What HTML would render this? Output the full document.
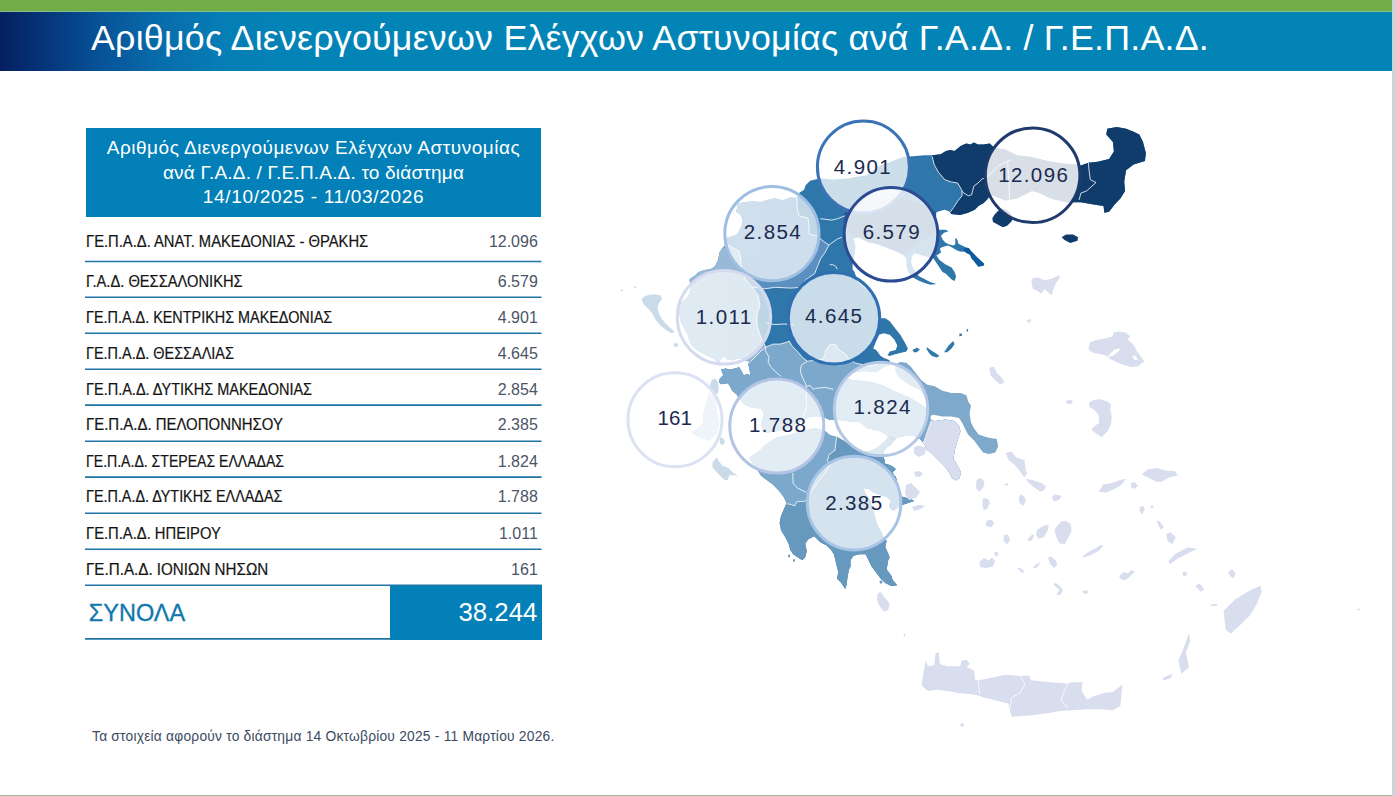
<!DOCTYPE html>
<html lang="el">
<head>
<meta charset="utf-8">
<title>Αριθμός Διενεργούμενων Ελέγχων Αστυνομίας</title>
<style>
*{margin:0;padding:0;box-sizing:border-box}
html,body{width:1396px;height:796px;overflow:hidden;background:#fff}
body{position:relative;font-family:"Liberation Sans","DejaVu Sans",sans-serif}
.abs{position:absolute}
#green{left:0;top:0;width:1392px;height:11px;background:#72ad47}
#gline{left:0;top:11px;width:1392px;height:1px;background:#80c088}
#bar{left:0;top:12px;width:1392px;height:58.5px;background:linear-gradient(90deg,#05205f 0px,#06357a 45px,#075298 100px,#086cab 160px,#067eb6 225px,#0384b7 300px,#0384b7 100%)}
#title{left:91px;top:20.5px;font-size:35.8px;line-height:35.8px;letter-spacing:0.21px;color:#fff;white-space:nowrap}
#rstrip{left:1392px;top:0;width:4px;height:796px;background:#d2d1d8}
#bstrip{left:0;top:794.5px;width:1392px;height:1.5px;background:#a3b896}
#thead{left:86px;top:128px;width:455px;height:89px;background:#0280b7;color:#fff;text-align:center;font-size:19px;line-height:24.8px;padding-top:7.8px;white-space:nowrap}
.lab{position:absolute;left:86px;font-size:15.8px;line-height:15px;color:#141414;-webkit-text-stroke:0.2px #141414;white-space:nowrap;transform-origin:0 0}
.num{position:absolute;right:858.2px;font-size:16px;line-height:15px;color:#4b5567;white-space:nowrap}
#tot{left:390px;top:585px;width:151.5px;height:54.5px;background:#0280b7}
#totv{right:858.6px;top:599.8px;font-size:25.8px;line-height:24.5px;color:#fff}
#totl{left:88.8px;top:602.1px;font-size:23.5px;line-height:23.2px;color:#1178ad;-webkit-text-stroke:0.3px #1178ad}
#foot{left:92px;top:730.3px;font-size:13.8px;line-height:13.8px;letter-spacing:0.215px;color:#3c4a62;white-space:nowrap}
svg{position:absolute;left:0;top:0}
.c{font-family:"Liberation Sans",sans-serif;font-size:20.5px;letter-spacing:1.4px;fill:#1b2a4e;text-anchor:middle}
</style>
</head>
<body>
<div id="green" class="abs"></div>
<div id="gline" class="abs"></div>
<div id="bar" class="abs"></div>
<div id="title" class="abs">Αριθμός Διενεργούμενων Ελέγχων Αστυνομίας ανά Γ.Α.Δ. / Γ.Ε.Π.Α.Δ.</div>
<div id="rstrip" class="abs"></div>
<div id="bstrip" class="abs"></div>

<div id="thead" class="abs"><span style="letter-spacing:0.52px">Αριθμός Διενεργούμενων Ελέγχων Αστυνομίας</span><br><span style="letter-spacing:0.19px">ανά Γ.Α.Δ. / Γ.Ε.Π.Α.Δ. το διάστημα</span><br><span style="letter-spacing:0.68px">14/10/2025 - 11/03/2026</span></div>

<div class="lab" style="top:233.8px;transform:scaleX(0.9342)">ΓΕ.Π.Α.Δ. ΑΝΑΤ. ΜΑΚΕΔΟΝΙΑΣ - ΘΡΑΚΗΣ</div><div class="num" style="top:233.8px">12.096</div>
<div class="lab" style="top:273.8px;transform:scaleX(0.9295)">Γ.Α.Δ. ΘΕΣΣΑΛΟΝΙΚΗΣ</div><div class="num" style="top:273.8px">6.579</div>
<div class="lab" style="top:309.6px;transform:scaleX(0.9114)">ΓΕ.Π.Α.Δ. ΚΕΝΤΡΙΚΗΣ ΜΑΚΕΔΟΝΙΑΣ</div><div class="num" style="top:309.6px">4.901</div>
<div class="lab" style="top:345.5px;transform:scaleX(0.9136)">ΓΕ.Π.Α.Δ. ΘΕΣΣΑΛΙΑΣ</div><div class="num" style="top:345.5px">4.645</div>
<div class="lab" style="top:381.5px;transform:scaleX(0.9182)">ΓΕ.Π.Α.Δ. ΔΥΤΙΚΗΣ ΜΑΚΕΔΟΝΙΑΣ</div><div class="num" style="top:381.5px">2.854</div>
<div class="lab" style="top:417.4px;transform:scaleX(0.9458)">ΓΕ.Π.Α.Δ. ΠΕΛΟΠΟΝΝΗΣΟΥ</div><div class="num" style="top:417.4px">2.385</div>
<div class="lab" style="top:453.5px;transform:scaleX(0.8903)">ΓΕ.Π.Α.Δ. ΣΤΕΡΕΑΣ ΕΛΛΑΔΑΣ</div><div class="num" style="top:453.5px">1.824</div>
<div class="lab" style="top:489.4px;transform:scaleX(0.9097)">ΓΕ.Π.Α.Δ. ΔΥΤΙΚΗΣ ΕΛΛΑΔΑΣ</div><div class="num" style="top:489.4px">1.788</div>
<div class="lab" style="top:525.6px;transform:scaleX(0.9343)">ΓΕ.Π.Α.Δ. ΗΠΕΙΡΟΥ</div><div class="num" style="top:525.6px">1.011</div>
<div class="lab" style="top:561.5px;transform:scaleX(0.9612)">ΓΕ.Π.Α.Δ. ΙΟΝΙΩΝ ΝΗΣΩΝ</div><div class="num" style="top:561.5px">161</div>

<div id="tot" class="abs"></div>
<div id="totl" class="abs">ΣΥΝΟΛΑ</div>
<div id="totv" class="abs">38.244</div>

<svg width="1396" height="796" viewBox="0 0 1396 796">
<g stroke="#1f74a6" stroke-width="1.6" fill="none">
<path d="M85 261.5H541.5M85 297.3H541.5M85 333.2H541.5M85 369.2H541.5M85 405.1H541.5M85 441.2H541.5M85 477.1H541.5M85 513.3H541.5M85 549.2H541.5M85 585.2H541.5M85 638.9H390"/>
</g>
<!--MAP--><defs><clipPath id="land"><path d="M679.5 303 683.3 300.9 687.9 296.4 689.4 293.3 690.9 285.8 689.4 279.8 690.9 278.3 695.4 275.2 698.4 272.2 704.5 270 710.5 269.2 715 266.2 718 260.2 719.5 252.6 722.5 248.1 725.6 245.1 725 240 727.1 237.5 730.1 236.7 733.1 236 736.1 234.5 738.4 232.2 739.9 229.2 741.4 226.2 742.1 223.2 742.1 218.6 740.6 214.9 736.1 211.9 736.9 208.8 737.6 203.6 745.1 202.1 752.7 201.3 760.2 202.1 767.8 199.8 775 198.3 782.9 200.3 790.5 197.3 796.5 198.1 799.5 192.8 804.1 189.8 805.6 185.2 810.1 180.7 816.1 179.2 822.2 178.6 832.8 179.4 847.8 178.6 859.9 176.3 866 175.5 872 171 880 165.5 888.5 162.8 897.6 159 903.6 156.7 909 156.5 915.7 156 924.7 155.2 932 155.2 940.7 154.2 946 151 950.3 150 954.5 151 961 145.7 966.3 143.5 970.6 144.6 973.8 142.5 978 144.6 983.4 144.6 989.8 143.5 994.2 147.7 1005.5 149.6 1016.8 155.2 1031.9 157.1 1050.7 161.8 1065.8 163.7 1077 164.6 1080.9 165.6 1088.4 162.8 1097.8 161.8 1109.1 159 1113.9 151.4 1112.9 142 1106.3 134.5 1107.2 128.8 1116.7 127 1126.1 128.8 1133.6 131.7 1139.3 134.5 1143 142 1145.9 153.3 1144.9 160.9 1133.6 164.6 1126.1 170.3 1124.2 181.6 1125.1 191 1120.4 198.5 1114.8 204.2 1109.1 211.7 1104.4 212.7 1103.5 206.1 1092.2 204.2 1080.9 202.3 1065.8 202.3 1050.7 198.5 1039.4 192.9 1031.9 191 1016.8 198.5 1005.5 200.4 990.4 194.8 987.6 199 983.4 203.3 979.1 205.4 974.8 209.7 967.4 212.9 959.9 215 951.3 214 950.3 212.4 948.3 210.9 944.5 209.8 940 210.9 936.2 212.4 936 220 937 226 936.5 229.8 945.6 229.8 948.6 231.3 944.1 232.8 941 235.8 942.6 239.4 945.3 242.5 948.8 244.2 953.2 245.6 955.4 244.2 955.2 239 956.3 238.1 957.6 240.7 958.5 243.8 962 245.6 965.1 246.9 967.3 247.8 969 248.2 970.8 250.8 974.3 254.3 977.4 257.4 981.8 261.4 984.4 264 983.5 265.8 978.3 266.7 976.1 264 973.4 260.5 971.7 258.7 969.9 254.8 967.3 253.5 964.2 251.5 961.1 251.7 957.6 250.8 954.5 249.1 951.4 246.9 947.9 245.6 944.4 246.4 941.8 247.3 940 248.5 941 252.4 936.5 255.4 939.5 259.9 945.6 264.5 951.6 267.5 954.6 272 956.1 276.5 954.6 281 951.6 279.5 948.6 276.5 945.6 273.5 942.5 272 939.5 267.5 936.5 262.9 933.5 258.4 929.9 258 924.2 256.1 914.8 253.3 912 256 911 262 913 268 918.6 275.9 924.5 279 930 282 936.5 284.1 930.5 284.8 924.5 283 918.4 280.5 912 277 908.5 272 906.3 266 906.5 259 903.5 255.2 896 251.4 886.5 247.6 877.1 243.9 867.7 242 858.3 237.3 853.6 238.2 855.4 246.7 854.5 256.1 852.6 264.6 852.6 269.3 854.5 272.1 858 282 866 289 873 296 876 305 878 313 880.7 318.3 885.2 318.3 889.8 321.3 894.3 327.3 900.3 334.8 904.8 342.4 907.9 348.4 906.4 351.4 900.3 352.9 894.3 354.5 889.8 356 887.5 355.2 889.8 351.4 895.8 349.9 897.3 345.4 894.3 339.4 889.8 334.8 883.7 333.3 879.2 334.8 876.2 340.9 873.2 348.4 876.2 349.9 880.7 356 884 358 889 360 891 363 889.4 364.8 882.8 367.5 876.2 372.2 869 371.5 863 371 855 372.5 849.8 374 845 376.5 849 379 852.4 380 869.6 381.4 882.8 385.3 896 392 909.2 397.2 922.3 405.1 928 410 930.3 416.4 930.3 419.4 934.8 420.9 945.4 419.4 954.5 420.9 959 425.4 960.5 431.4 958 439 955 449.6 953.5 458.7 958 466.2 961 472.2 959.5 478.3 956.5 480.5 952 478.3 949 472.2 944.5 466.2 938.4 460.2 932.4 454.1 926.4 449.6 924 444 920 439 914 436 905 436 897 438 894 441 891 445 886 448 884 452 883.9 458.2 885.1 461.4 883.9 463.2 888.3 464.5 892.7 466.4 895.8 468.9 894.5 470.8 892.7 472 893.9 475.2 895.8 476.4 897 481 897.7 487.3 899.2 494.8 903 497 909.8 498.6 914.3 500.9 905.2 503.9 900.7 505.4 896 509 893 511 889 507 890.8 500.4 886.7 497.1 881 495.5 874.5 493 868.8 489 863.9 488.2 864.7 492.2 870.4 500.4 872 507.8 874.5 514.3 876.1 520.8 877.8 525.7 881.8 533.1 884.3 538.8 886.7 540.7 885.2 546.7 889.7 557.3 888.2 560.3 886.7 569.4 891.2 575.4 892.7 579.9 897.2 585.2 891.2 586 885.2 582.9 880.6 578.4 876.1 572.4 871.6 566.4 868.6 560.3 865.6 554.3 859.5 554.3 853.5 555.8 850.5 560.3 850.5 566.4 849 569.4 847.5 576.9 846.7 584.5 845.2 589 841.4 582.9 836.9 578.4 838.4 572.4 836.9 566.4 835.4 560.3 833.9 554.3 830.9 549.8 826.4 545.2 820.3 542.2 814.3 536.2 808.3 539.2 805.2 543.7 806.8 551.3 805.2 557.3 802.2 560.3 797.7 557.3 793.2 554.3 790.2 549.8 788.7 543.7 785.6 537.7 781.1 530.2 779.6 523 781 516 784 509 786.7 502.9 783.7 496.9 779.2 490.9 773.2 484.8 767.1 480.3 761.1 475.8 755 466 748.6 457.7 754.9 453.9 761.2 448.9 766.2 443.9 776.3 437.6 788.8 435 801.4 431.3 814 428 824 430 830 435.2 837 437 845 441.5 852 447 860 451.5 868 451.5 876 448.5 881 444.5 886 440 888 436.5 885.1 433.7 878 430.8 867.2 428.6 860 422.2 849.3 421.5 837.9 420 830 420 824 417.5 816.5 416.2 807.7 417.5 801.4 421.2 788.8 428.8 776.3 431.3 766 433 762.4 431.3 761.2 423.8 763.7 413.7 761.2 408.7 751.1 407.4 744.8 404.9 738.6 398.6 736.9 394.5 732.4 391.1 730.1 386.5 727.9 383.2 721.1 384.3 718.8 382 719.9 378.6 723.3 375.2 721.1 369.6 725.6 368.5 730.1 369.6 734.6 368.5 739.2 367.3 741.4 370.7 743.7 375.2 747.1 374.1 750.5 375.2 749.3 368.5 748.2 363.9 750.5 361.7 744.8 360.5 739.2 358.3 732.4 360.5 727.9 359.4 723.3 356 718.8 362.8 714 359 708 356 700 352 694 348 690.9 344.6 687.9 335.6 683.3 326.5 680.3 320.5 678.8 309.9 680.3 305.4Z"/></clipPath></defs>
<g id="map">
<path fill="#3077aa" d="M679.5 303 683.3 300.9 687.9 296.4 689.4 293.3 690.9 285.8 689.4 279.8 690.9 278.3 695.4 275.2 698.4 272.2 704.5 270 710.5 269.2 715 266.2 718 260.2 719.5 252.6 722.5 248.1 725.6 245.1 725 240 727.1 237.5 730.1 236.7 733.1 236 736.1 234.5 738.4 232.2 739.9 229.2 741.4 226.2 742.1 223.2 742.1 218.6 740.6 214.9 736.1 211.9 736.9 208.8 737.6 203.6 745.1 202.1 752.7 201.3 760.2 202.1 767.8 199.8 775 198.3 782.9 200.3 790.5 197.3 796.5 198.1 799.5 192.8 804.1 189.8 805.6 185.2 810.1 180.7 816.1 179.2 822.2 178.6 832.8 179.4 847.8 178.6 859.9 176.3 866 175.5 872 171 880 165.5 888.5 162.8 897.6 159 903.6 156.7 909 156.5 915.7 156 924.7 155.2 932 155.2 940.7 154.2 946 151 950.3 150 954.5 151 961 145.7 966.3 143.5 970.6 144.6 973.8 142.5 978 144.6 983.4 144.6 989.8 143.5 994.2 147.7 1005.5 149.6 1016.8 155.2 1031.9 157.1 1050.7 161.8 1065.8 163.7 1077 164.6 1080.9 165.6 1088.4 162.8 1097.8 161.8 1109.1 159 1113.9 151.4 1112.9 142 1106.3 134.5 1107.2 128.8 1116.7 127 1126.1 128.8 1133.6 131.7 1139.3 134.5 1143 142 1145.9 153.3 1144.9 160.9 1133.6 164.6 1126.1 170.3 1124.2 181.6 1125.1 191 1120.4 198.5 1114.8 204.2 1109.1 211.7 1104.4 212.7 1103.5 206.1 1092.2 204.2 1080.9 202.3 1065.8 202.3 1050.7 198.5 1039.4 192.9 1031.9 191 1016.8 198.5 1005.5 200.4 990.4 194.8 987.6 199 983.4 203.3 979.1 205.4 974.8 209.7 967.4 212.9 959.9 215 951.3 214 950.3 212.4 948.3 210.9 944.5 209.8 940 210.9 936.2 212.4 936 220 937 226 936.5 229.8 945.6 229.8 948.6 231.3 944.1 232.8 941 235.8 942.6 239.4 945.3 242.5 948.8 244.2 953.2 245.6 955.4 244.2 955.2 239 956.3 238.1 957.6 240.7 958.5 243.8 962 245.6 965.1 246.9 967.3 247.8 969 248.2 970.8 250.8 974.3 254.3 977.4 257.4 981.8 261.4 984.4 264 983.5 265.8 978.3 266.7 976.1 264 973.4 260.5 971.7 258.7 969.9 254.8 967.3 253.5 964.2 251.5 961.1 251.7 957.6 250.8 954.5 249.1 951.4 246.9 947.9 245.6 944.4 246.4 941.8 247.3 940 248.5 941 252.4 936.5 255.4 939.5 259.9 945.6 264.5 951.6 267.5 954.6 272 956.1 276.5 954.6 281 951.6 279.5 948.6 276.5 945.6 273.5 942.5 272 939.5 267.5 936.5 262.9 933.5 258.4 929.9 258 924.2 256.1 914.8 253.3 912 256 911 262 913 268 918.6 275.9 924.5 279 930 282 936.5 284.1 930.5 284.8 924.5 283 918.4 280.5 912 277 908.5 272 906.3 266 906.5 259 903.5 255.2 896 251.4 886.5 247.6 877.1 243.9 867.7 242 858.3 237.3 853.6 238.2 855.4 246.7 854.5 256.1 852.6 264.6 852.6 269.3 854.5 272.1 858 282 866 289 873 296 876 305 878 313 880.7 318.3 885.2 318.3 889.8 321.3 894.3 327.3 900.3 334.8 904.8 342.4 907.9 348.4 906.4 351.4 900.3 352.9 894.3 354.5 889.8 356 887.5 355.2 889.8 351.4 895.8 349.9 897.3 345.4 894.3 339.4 889.8 334.8 883.7 333.3 879.2 334.8 876.2 340.9 873.2 348.4 876.2 349.9 880.7 356 884 358 889 360 891 363 889.4 364.8 882.8 367.5 876.2 372.2 869 371.5 863 371 855 372.5 849.8 374 845 376.5 849 379 852.4 380 869.6 381.4 882.8 385.3 896 392 909.2 397.2 922.3 405.1 928 410 930.3 416.4 930.3 419.4 934.8 420.9 945.4 419.4 954.5 420.9 959 425.4 960.5 431.4 958 439 955 449.6 953.5 458.7 958 466.2 961 472.2 959.5 478.3 956.5 480.5 952 478.3 949 472.2 944.5 466.2 938.4 460.2 932.4 454.1 926.4 449.6 924 444 920 439 914 436 905 436 897 438 894 441 891 445 886 448 884 452 883.9 458.2 885.1 461.4 883.9 463.2 888.3 464.5 892.7 466.4 895.8 468.9 894.5 470.8 892.7 472 893.9 475.2 895.8 476.4 897 481 897.7 487.3 899.2 494.8 903 497 909.8 498.6 914.3 500.9 905.2 503.9 900.7 505.4 896 509 893 511 889 507 890.8 500.4 886.7 497.1 881 495.5 874.5 493 868.8 489 863.9 488.2 864.7 492.2 870.4 500.4 872 507.8 874.5 514.3 876.1 520.8 877.8 525.7 881.8 533.1 884.3 538.8 886.7 540.7 885.2 546.7 889.7 557.3 888.2 560.3 886.7 569.4 891.2 575.4 892.7 579.9 897.2 585.2 891.2 586 885.2 582.9 880.6 578.4 876.1 572.4 871.6 566.4 868.6 560.3 865.6 554.3 859.5 554.3 853.5 555.8 850.5 560.3 850.5 566.4 849 569.4 847.5 576.9 846.7 584.5 845.2 589 841.4 582.9 836.9 578.4 838.4 572.4 836.9 566.4 835.4 560.3 833.9 554.3 830.9 549.8 826.4 545.2 820.3 542.2 814.3 536.2 808.3 539.2 805.2 543.7 806.8 551.3 805.2 557.3 802.2 560.3 797.7 557.3 793.2 554.3 790.2 549.8 788.7 543.7 785.6 537.7 781.1 530.2 779.6 523 781 516 784 509 786.7 502.9 783.7 496.9 779.2 490.9 773.2 484.8 767.1 480.3 761.1 475.8 755 466 748.6 457.7 754.9 453.9 761.2 448.9 766.2 443.9 776.3 437.6 788.8 435 801.4 431.3 814 428 824 430 830 435.2 837 437 845 441.5 852 447 860 451.5 868 451.5 876 448.5 881 444.5 886 440 888 436.5 885.1 433.7 878 430.8 867.2 428.6 860 422.2 849.3 421.5 837.9 420 830 420 824 417.5 816.5 416.2 807.7 417.5 801.4 421.2 788.8 428.8 776.3 431.3 766 433 762.4 431.3 761.2 423.8 763.7 413.7 761.2 408.7 751.1 407.4 744.8 404.9 738.6 398.6 736.9 394.5 732.4 391.1 730.1 386.5 727.9 383.2 721.1 384.3 718.8 382 719.9 378.6 723.3 375.2 721.1 369.6 725.6 368.5 730.1 369.6 734.6 368.5 739.2 367.3 741.4 370.7 743.7 375.2 747.1 374.1 750.5 375.2 749.3 368.5 748.2 363.9 750.5 361.7 744.8 360.5 739.2 358.3 732.4 360.5 727.9 359.4 723.3 356 718.8 362.8 714 359 708 356 700 352 694 348 690.9 344.6 687.9 335.6 683.3 326.5 680.3 320.5 678.8 309.9 680.3 305.4Z"/>
<g clip-path="url(#land)">
<path fill="#103c6c" d="M932 150 932.1 156.3 934.3 164.9 938.5 172.4 944.9 179.8 951.3 182 957.7 183 962 190.5 962 195.8 957.7 201.2 953.5 207.6 950.3 212 951 225 1160 225 1160 110 925 110 925 150Z"/>
<path fill="#2a5f95" d="M843 214 852 207 866 202 882 199 898 198 912 201 926 206 936 212 937 226 936 231 926 238 914 246 905 253 886 248 870 243 856 238 849 231 844 222Z"/>
<path fill="#5a90c0" d="M725 240 730 200 797 196 797 207 799 216 808 218 809 227 809 234 817.5 236 823 241 829 245 825 252.6 820.6 258.7 817.6 266.2 814.6 273.7 805.6 279.8 802.5 287.3 790.5 288.1 775.4 287.3 764.8 288.8 752 287 745 279 741 265 740.5 258 739 251 733 248 727.6 245Z"/>
<path fill="#99bad6" d="M660 300 690 270 727.6 245 733 248 739 251 740.5 258 741 265 745 279 752 287 758 295 760 305 757 315 757 325 760 335 763 342 766 347 762 350 756 356 750.5 361.7 744.8 360.5 739.2 358.3 732.4 360.5 727.9 359.4 723.3 356 718.8 362.8 700 365 660 360Z"/>
<path fill="#6699bd" d="M836.5 436.6 838 428.5 850 431 863 434 876 437 884 438.5 888 436 894 441 903 451 906 455 920 470 920 600 770 600 770 506 786.7 503.7 791.3 504.5 794.3 506 797.3 501.4 804.8 501.4 806 500 811 492 818 482 826 472 830.5 463.7 827.5 460.7 829 454.7 835 450.2Z"/>
<path fill="#7ca8cb" d="M700 366 718.8 362.8 723.3 356 727.9 359.4 732.4 360.5 739.2 358.3 744.8 360.5 750.5 361.7 756 356 762 350 766 347 773.1 344.1 780.2 344.1 787.2 342.1 789.2 341.1 792.2 346.2 797.3 351.2 802.3 357.2 807.3 361.2 823.4 359.2 826 350 830.4 344.1 836 345 839 350 844.5 353.2 850 360 855.6 363.2 870 366 885 362 900 370 935 400 935 418 931 421 927.3 431.4 924.3 440.5 919.8 446.5 915.2 452.5 905 446 897 439 892 437 888 436 884 438.5 876 437 863 434 850 431 838 428.5 830 427.5 824 424 816 422 807 424 801 426 789 432 776 434.5 764 438 740 440 700 420Z"/>
<path fill="#7ca8cb" d="M764 438 776 434.5 789 432 801 426 807 424 816 422 824 424 830 427.5 838 428.5 836.5 436.6 835 450.2 829 454.7 827.5 460.7 830.5 463.7 826 472 818 482 811 492 806 500 804.8 501.4 797.3 501.4 794.3 506 791.3 504.5 786.7 503.7 740 505 740 440Z"/>
<path fill="#d9deee" d="M931 421 927.3 431.4 924.3 440.5 919.8 446.5 915.2 452.5 930 470 970 490 975 415 935 415Z"/>
<path fill="#0e5a9e" d="M963 249 967.3 247.8 969 248.2 970.8 250.8 974.3 254.3 977.4 257.4 981.8 261.4 984.4 264 983.5 265.8 978.3 266.7 976.1 264 973.4 260.5 971.7 258.7 969.9 254.8 967.3 253.5 964.2 251.5Z"/>
<g fill="none" stroke="#fff" stroke-width="0.9" stroke-linejoin="round" opacity="0.9">
<path d="M932.1 156.3 934.3 164.9 938.5 172.4 944.9 179.8 951.3 182 957.7 183 962 190.5 962 195.8 957.7 201.2 953.5 207.6 950.3 212"/>
<path d="M797 198 797 207 799 216 808 218 809 227 809 234 817.5 236 823 241 829 245 825 252.6 820.6 258.7 817.6 266.2 814.6 273.7 805.6 279.8 802.5 287.3 790.5 288.1 775.4 287.3 764.8 288.8 752 287 745 279 741 265 740.5 258 739 251 733 248 727.6 245"/>
<path d="M752 287 758 295 760 305 757 315 757 325 760 335 763 342 766 347 773.1 344.1 780.2 344.1 787.2 342.1 789.2 341.1 792.2 346.2 797.3 351.2 802.3 357.2 807.3 361.2 823.4 359.2 826 350 830.4 344.1 836 345 839 350 844.5 353.2 850 360 855.6 363.2 870 366 878 364"/>
<path d="M766 347 762 350 756 356 750.5 361.7"/>
<path d="M807.3 361.2 801.3 365.3 800.3 371.3 802.3 377.3 805.3 383.3 806.3 386.4 806.4 391 806.4 407.4 804 412.4 804 419"/>
<path d="M806.3 386.4 810.3 385.4 813.3 389.4 815.4 388.4 825.4 387.4 833.4 389.4"/>
<path d="M766.1 347.2 765.1 350.2 769.1 357.2 768.1 362.2 771.1 367.3 777.2 373.3 781.2 376.3"/>
<path d="M836.5 436.6 835 450.2 829 454.7 827.5 460.7 830.5 463.7 826 472 818 482 811 492 806 500 804.8 501.4 797.3 501.4 794.3 506 791.3 504.5 786.7 503.7"/>
<path d="M820.4 218.7 831.9 220.1 837.6 218.7 844.8 215.8"/>
<path d="M829 245 837.6 238.8 841.9 237.3"/>
<path d="M829.7 264.7 832.7 264.7 835.7 266.2 837.2 269.2"/>
<path d="M931 421 927.3 431.4 924.3 440.5 921 445"/>
<path d="M962 191 963.1 192.6 968.4 195.8 971.6 194.8 973.8 186.2 978 183 982.3 178.8 986.6 177.7 991.9 172.4 998.7 165.6 1007 161.4 1011.2 160.1"/>
<path d="M1007.7 161.5 1008.4 175.3 1009.1 186.3 1009.8 202.9"/>
<path d="M1088.4 162.8 1089 170 1090.3 179.7 1096 182.5 1086.5 191 1081 193 1079 200"/>
<path d="M792.8 472.8 793.1 483.3 797.3 487.9 806.4 492.4"/>
<path d="M766 323 775 324.5 785 324 794 325"/>
</g>
</g>
<path fill="#7ea9ca" d="M900.2 362.1 906.2 362.8 910.7 366.6 915.2 372.6 921.3 380.2 927.3 384.7 934.8 386.2 942.4 390.7 951.4 393 960.5 393 966.5 395.2 968 401.3 971 405.8 969.5 413.3 971 422.4 974.1 428.4 978.6 434.5 987.6 437.5 996.7 439 998.2 446.5 995.2 452.5 989.1 454.1 983.1 452.5 978.6 446.5 974.1 440.5 968 434.5 965 428.4 962 422.4 959 417.9 951.4 416.4 942.4 416.4 933.3 414.8 930.3 416 928 410 926 402 924 395 919.7 390 909.2 385 902 380 897 375 895 369 896 364Z"/>
<path fill="#c9dae9" d="M641.5 299 645 296 650 294.8 655 294.2 660.5 295.5 662 299 659 303 657.5 307 658.7 313 662 319 666 324 671 328.5 674.3 331.5 672 333.5 666 330 660 325 655.5 319.5 652 313 648 308.5 643.5 304ZM620.5 289.8 622.8 289.5 622.5 291.2 620.6 291.3ZM634.2 286.8 636.3 286.6 636 288.3 634.3 288.2ZM674.5 343 677.5 343.5 678 346.5 675 347 673.5 345ZM712 379.8 715.4 378.6 717.7 382 718.8 388.8 717.7 393.3 714.3 394.5 710.9 391.1 709.8 385.4ZM708.5 392.7 715.4 396.8 716.8 409.2 719.5 423 716.8 434.1 708.5 441 697.4 436.9 691.9 432.7 697.4 428.6 703 423 703 413.4 705.7 403.7ZM719.5 437 723 438 725 442 722.5 445.5 720 443ZM716.9 457.6 718.7 461.1 722.2 465.5 728.4 468.1 732.8 472.5 738 476.1 734.5 475.2 729.3 475.2 727.5 480.5 724 479.6 717.8 473.4 712.5 467.3 712.5 462Z"/>
<path fill="#103c6c" d="M992.3 218.3 995 214 998 211 1001.5 208.8 1006 209.5 1010.5 213 1013 218 1011.5 221.5 1007.2 225.8 1002.9 227.2 997.2 224.3 993 222ZM1061.7 237.2 1066 234.4 1073.1 234.4 1078.1 237.2 1077.4 240.8 1070.3 243 1064.5 240.1Z"/>
<path fill="#3077aa" d="M912.4 349.9 916.9 347.7 919.9 349.2 916.9 352.2 913.9 352.2ZM926.7 346.9 930.5 349.9 936.5 353.7 939.5 356 936.5 357.5 932 356 929 352.9 926.7 349.2ZM944.1 352.2 948.6 345.4 953.1 340.9 954.6 343.9 951.6 348.4 947.1 352.2ZM959.5 333.5 962 333.8 961.8 336 959.3 336.2ZM966.8 329 968.2 329.3 968 331.5 966.6 331.5Z"/>
<path fill="#d9deee" d="M989.1 368.1 993.7 366.6 996.7 372.6 1002.7 378.7 1004.2 383.2 999.7 383.9 995.2 380.2 990.6 375.6ZM1031.6 278.8 1037.3 277.3 1044.5 280.2 1051.6 278.8 1058.8 275.2 1060.2 277.3 1055.9 283.1 1053.1 290.2 1051.6 295.2 1047.3 291.7 1044.5 288.8 1041.6 293.8 1038.7 291.7 1033 288.8 1031.6 284.5ZM1026.5 321 1029 318.9 1031.6 320 1029 323.2ZM1088.6 348.2 1090.1 342.2 1096.2 339.9 1105.2 338.4 1112.7 336.2 1113.5 332.4 1118.8 331.6 1125.6 332.4 1130.1 336.2 1127.8 339.2 1133.8 345.2 1136.9 351.2 1141.4 357.3 1144.4 361.8 1141.4 363.3 1138.4 366.3 1130.8 367.1 1123.3 364.8 1115.8 361.8 1109.7 358.8 1106.7 355.8 1100.7 354.2 1093.2 352.7 1089.4 350.5ZM1088.8 402.9 1093.1 400 1100.3 399.3 1107.4 401.5 1111 404.3 1110.3 410.1 1111.7 415.8 1111 424.4 1107.4 431.5 1101.7 437.3 1097.4 434.4 1091.7 430.1 1093.1 427.2 1098.9 423 1098.9 415.8 1094.6 410.1 1089.5 407.2ZM1066 401 1070 399.5 1073 401 1071 404.3 1067 403.5ZM1141.8 474.5 1147.6 469.5 1157.6 468.1 1167.6 470.9 1174.8 470.9 1177.7 475.2 1169.1 477.4 1161.9 481.7 1156.2 481.7 1149 478.1ZM1098.9 491.7 1103.2 484.6 1111.7 483.1 1121.8 479.5 1126.1 478.8 1121.8 484.6 1114.6 488.9 1106 492.4ZM1131 483 1135 482 1138 486 1134 489 1131 487ZM1005.7 453 1011.5 451.6 1015.8 457.3 1024.4 460.2 1025.8 470.2 1027.2 473.1 1024.4 477.4 1020.1 471.7 1014.3 464.5 1008.6 460.2ZM1025.8 478.8 1033 480.3 1041.5 483.1 1045.8 486 1044.4 490.3 1040.1 491.7 1034.4 487.4 1028.7 483.1ZM1021 494.3 1024.5 497 1025.9 501 1023 505.8 1019.5 503 1018.7 498ZM1051.7 497 1055 494.3 1061.7 496 1059 500 1054 501.5ZM1004 484 1008.6 483.3 1007 486.2ZM976.5 480 980 478 984.5 481 983.5 487 979.5 492 976 488ZM983 498 988 499 990.1 503 987 509 983.5 510 982.5 504ZM986.5 520.5 992 520 994.4 523.5 991 527.2 986 526ZM1004 535 1008 534.4 1010.1 540 1007 544.4 1003.5 541ZM979.3 562 984 558 989 560.5 992 557.3 995.1 561 993 566.5 986 568.1 980 567ZM994 552.5 997.5 551.6 998.7 555 995 556.6ZM1037 530 1043 526 1048.8 524.4 1047.5 531 1044 537 1039 538.7 1036 535ZM1028 539 1031.5 535 1034.5 534.4 1032 540 1028.5 541.6ZM1057 526 1061 521.5 1066 520.8 1070.5 524 1071.7 531 1068 538 1064.5 544.4 1059 543 1056 536 1054.6 530ZM1048 558 1051 556.6 1055.5 560 1057.4 565 1054 568.1 1050 564ZM1033 567 1037 563.5 1040.2 562.3 1038 566.5 1034.5 568.8ZM1017.3 568.5 1020 567.4 1024.5 571.5 1022.5 573.1ZM1082 557 1088 552 1095 548.5 1101 545 1103.3 546 1099 550.5 1092 554.5 1085 557.3ZM1053 584 1056 583.1 1060 586 1063.2 590.5 1060 595.3 1056.5 594.5 1059.5 590 1056 587ZM1082 591.5 1086 590.3 1089 592.5 1085 593.9ZM1119 576 1124 572 1128 573.5 1131 570 1134.8 571.5 1130 576.5 1125 580.3 1121 579.5ZM1139.5 507 1143 505.8 1144.8 509 1142 514.4 1140 512ZM1150.5 506 1153.5 505 1153 508 1150.7 508.5ZM1156.7 520 1160 522 1163.9 527 1161 529.7 1158 525ZM1166.3 534.5 1170 532 1175.8 537 1172.5 544 1167.5 541ZM1168.6 560.7 1175.8 553.5 1187.7 547.6 1197.3 548.8 1187.7 553.5 1178.2 558.3 1169.8 564.3ZM1182 572.5 1186 571.4 1187.7 575 1183.5 576.2ZM1195 586 1199.5 583.4 1204.4 589 1201 591.7ZM1228.3 572 1232 569 1235.5 573.5 1233.5 578.6 1230 576ZM1223.5 610.8 1235.5 598.9 1249.8 590.5 1260.5 585.8 1261.7 591.7 1256.9 603.7 1249.8 615.6 1240.2 625.1 1230.7 633.5 1225.9 629.9 1224.7 620.4ZM1210.4 604.5 1217.6 603.7 1216.5 606 1211 606ZM1189 632.9 1190.1 641.5 1185.8 652.2 1189 667.3 1181.5 673.7 1178.3 660.8 1183.7 647.9ZM1162.2 678.5 1168 675.5 1173 673.7 1170 678.5 1164 680.2ZM1356 609 1360 608.4 1359 611ZM921.5 684.5 923.6 671.6 925.8 660.8 927.9 666.2 934.4 665.1 935.5 653.3 938.7 652.2 939.8 664.1 947.3 666.2 960.2 666.2 961.3 660.8 966.6 659.8 969.8 664.1 966.6 667.3 974.1 670.5 975.2 680.2 979.5 680.2 994.6 677 1005.3 674.8 1020.4 675.9 1029 675.4 1031.1 680.2 1050.4 682.3 1067.6 683.4 1071.9 682.3 1082.7 682.3 1081.6 690.9 1087 699.5 1093.4 696.3 1104.2 693.1 1112.8 692 1117.1 688.8 1122.4 684.5 1121.4 695.2 1120.3 706 1112.8 710.3 1099.9 709.2 1087 709.2 1071.9 710.3 1059 711.3 1046.1 713.5 1029 715.6 1011.8 716.7 1009.6 710.3 1008.5 703.8 1001 701.7 992.4 699.5 983.8 697.4 977.4 695.2 968.8 694.1 958 693.1 947.3 690.9 936.5 689.8 927.9 690.9 922.6 686.6ZM960 724 963 723 964.5 726 961 726.4ZM903.5 634 905 633.5 905.5 636.5 904 637ZM877.6 593.5 880.6 592 885.2 598 889.7 604.1 888.2 610.1 883.7 611.6 879.1 605.6 876.9 599.5ZM914 447 920 445.5 926 448 925 454 919 457 914 454ZM914 472 919 471 923 473.5 920 477 915 476.5ZM906 485 911 483 915 487 920 492 916 498 909 500 905 494ZM912 507 918 505 925 505.5 921 509 914 511Z"/>
<path fill="#6699bd" d="M879.5 581 882 580.5 882.5 583 880 583.8ZM788 555 790 554.5 790 557 788.3 557.5ZM793 559.5 795 559 795 561.5 793.2 561.8Z"/>
<g fill="none" stroke="#fff" stroke-width="0.9" opacity="0.9"><path d="M978.4 680.2 979.5 694.1"/><path d="M1020.4 675.9 1024.7 684.5 1020.4 693.1 1011.8 697.4 1009.6 710.3"/><path d="M1067.6 683.4 1063.3 693.1 1061.2 699.5 1067.6 708.1"/></g>
<path fill="#fff" d="M1108.2 355.8 1114.2 349.7 1120.3 348.2 1118.8 351.2 1112.7 355.8 1108.5 357.3Z M1132 356 1135 355.5 1138 359.5 1135 360.3Z"/>
</g>
<g id="circles">
<circle cx="1032.6" cy="175.3" r="47.30" fill="#fff" fill-opacity="0.84" stroke="#1f3a6c" stroke-width="3.0"/>
<circle cx="863.4" cy="167.0" r="46.00" fill="#fff" fill-opacity="0.76" stroke="#3a73b6" stroke-width="3.0"/>
<circle cx="891.0" cy="234.3" r="46.80" fill="#fff" fill-opacity="0.8" stroke="#2b4b95" stroke-width="3.0"/>
<circle cx="771.9" cy="233.7" r="47.10" fill="#fff" fill-opacity="0.71" stroke="#9ebfe2" stroke-width="3.0"/>
<circle cx="834.0" cy="318.2" r="45.70" fill="#fff" fill-opacity="0.74" stroke="#2f6fb2" stroke-width="3.0"/>
<circle cx="724.0" cy="317.3" r="46.70" fill="#fff" fill-opacity="0.69" stroke="#d5daee" stroke-width="3.0"/>
<circle cx="675.0" cy="419.8" r="47.00" fill="#fff" fill-opacity="0.69" stroke="#dbe2f2" stroke-width="3.0"/>
<circle cx="776.8" cy="426.1" r="47.00" fill="#fff" fill-opacity="0.78" stroke="#b3c4e4" stroke-width="3.0"/>
<circle cx="881.0" cy="409.0" r="46.70" fill="#fff" fill-opacity="0.78" stroke="#b5c8e6" stroke-width="3.0"/>
<circle cx="854.1" cy="503.1" r="46.80" fill="#fff" fill-opacity="0.72" stroke="#a7c3e6" stroke-width="3.0"/>
<text class="c" x="1033.70" y="181.9">12.096</text>
<text class="c" x="862.90" y="174.2">4.901</text>
<text class="c" x="891.80" y="239.3">6.579</text>
<text class="c" x="772.90" y="238.9">2.854</text>
<text class="c" x="834.20" y="322.9">4.645</text>
<text class="c" x="724.20" y="323.9">1.011</text>
<text class="c" x="674.70" y="424.5" style="letter-spacing:0">161</text>
<text class="c" x="778.10" y="431.6">1.788</text>
<text class="c" x="882.60" y="413.9">1.824</text>
<text class="c" x="854.30" y="509.7">2.385</text>
</g><!--/MAP-->
</svg>

<div id="foot" class="abs">Τα στοιχεία αφορούν το διάστημα 14 Οκτωβρίου 2025 - 11 Μαρτίου 2026.</div>
</body>
</html>
